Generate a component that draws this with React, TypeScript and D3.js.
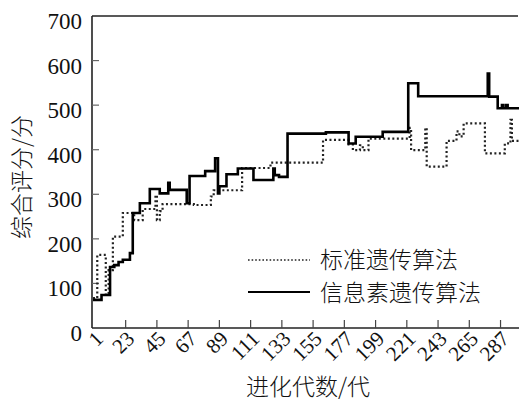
import { useEffect, useRef } from "react";
import * as d3 from "d3";

// 标准遗传算法 (dotted) — generation where the value changes, and the value
const stdGens = [0, 3, 9, 11, 14, 21, 29, 35, 44, 45, 47, 49, 71, 83, 85, 105, 125, 162, 180, 183, 188, 190, 194, 223, 224, 234, 235, 249, 256, 258, 261, 276, 290, 294, 295, 300];
const stdScores = [67, 164, 75, 130, 205, 258, 242, 267, 298, 242, 262, 278, 276, 295, 309, 359, 371, 422, 412, 399, 410, 399, 425, 449, 399, 449, 362, 420, 441, 430, 459, 392, 414, 467, 420, 420];

// 信息素遗传算法 (solid)
const pherGens = [0, 6, 12, 15, 18, 21, 26, 28, 33, 40, 47, 53, 54, 66, 68, 79, 86, 88, 89, 94, 102, 113, 127, 128, 131, 137, 164, 180, 185, 204, 222, 229, 278, 279, 285, 288, 289, 291, 292, 300];
const pherScores = [63, 74, 137, 141, 148, 153, 168, 258, 280, 312, 302, 326, 310, 280, 341, 352, 381, 302, 318, 345, 358, 332, 358, 343, 339, 436, 439, 414, 429, 440, 549, 520, 571, 519, 493, 500, 493, 500, 493, 493];

const xTicks = [1, 23, 45, 67, 89, 111, 133, 155, 177, 199, 221, 243, 265, 287];
const yTicks = [0, 100, 200, 300, 400, 500, 600, 700];

const legendLabels = ["标准遗传算法", "信息素遗传算法"];
const xTitle = "进化代数/代";
const yTitle = "综合评分/分";

const serif = "'Liberation Serif', 'Times New Roman', serif";
const cjk = "'Noto Sans CJK SC', sans-serif";

export default function App() {
  const svgRef = useRef<SVGSVGElement>(null);
  const width = 519;
  const height = 408;

  useEffect(() => {
    if (!svgRef.current) return;
    const svg = d3.select(svgRef.current);
    svg.selectAll("*").remove();

    const left = 92;
    const right = 519;
    const top = 16;
    const bottom = 328;

    const x = d3.scaleLinear().domain([0, 300]).range([93, 519]);
    const y = d3.scaleLinear().domain([0, 700]).range([bottom, top]);

    // frame: top, left, bottom (no right edge)
    const frame = [
      [left, top, 518, top],
      [left, top, left, bottom],
      [left, bottom, right, bottom],
    ];
    svg.selectAll(".frame").data(frame).enter().append("line")
      .attr("x1", (d) => d[0]).attr("y1", (d) => d[1])
      .attr("x2", (d) => d[2]).attr("y2", (d) => d[3])
      .attr("stroke", "#222").attr("stroke-width", 1.6);

    // y ticks (inward)
    const yg = svg.append("g");
    yg.selectAll("line").data(yTicks.slice(1, -1)).enter().append("line")
      .attr("x1", left).attr("x2", left + 7)
      .attr("y1", (d) => y(d)).attr("y2", (d) => y(d))
      .attr("stroke", "#666").attr("stroke-width", 1.2);
    yg.selectAll("text").data(yTicks).enter().append("text")
      .attr("x", 82).attr("y", (d) => y(d) + 13)
      .attr("text-anchor", "end")
      .attr("font-family", serif).attr("font-size", 23).attr("fill", "#111")
      .text((d) => d);

    // x ticks (inward)
    const xg = svg.append("g");
    xg.selectAll("line").data(xTicks.slice(1)).enter().append("line")
      .attr("x1", (d) => x(d)).attr("x2", (d) => x(d))
      .attr("y1", bottom).attr("y2", bottom - 8)
      .attr("stroke", "#444").attr("stroke-width", 1.2);
    xg.selectAll("text").data(xTicks).enter().append("text")
      .attr("transform", (d) => `translate(${x(d) + 10},${bottom + 12}) rotate(-45)`)
      .attr("text-anchor", "end")
      .attr("font-family", serif).attr("font-size", 21).attr("fill", "#111")
      .text((d) => d);

    // axis titles
    svg.append("text")
      .attr("x", 308).attr("y", 395)
      .attr("text-anchor", "middle")
      .attr("font-family", cjk).attr("font-weight", 300).attr("font-size", 23).attr("fill", "#111")
      .text(xTitle);
    svg.append("text")
      .attr("transform", "translate(30,177) rotate(-90)")
      .attr("text-anchor", "middle")
      .attr("font-family", cjk).attr("font-weight", 300).attr("font-size", 23).attr("fill", "#111")
      .text(yTitle);

    const stepLine = d3.line<[number, number]>()
      .x((d) => x(d[0])).y((d) => y(d[1]))
      .curve(d3.curveStepAfter);

    const stdData = stdGens.map((g, i) => [g, stdScores[i]] as [number, number]);
    const pherData = pherGens.map((g, i) => [g, pherScores[i]] as [number, number]);

    svg.append("path").attr("d", stepLine(stdData))
      .attr("fill", "none").attr("stroke", "#222")
      .attr("stroke-width", 2.2).attr("stroke-dasharray", "2 2.5");
    svg.append("path").attr("d", stepLine(pherData))
      .attr("fill", "none").attr("stroke", "#000")
      .attr("stroke-width", 2.6);

    // legend
    const lg = svg.append("g");
    lg.append("line").attr("x1", 248).attr("x2", 310).attr("y1", 260).attr("y2", 260)
      .attr("stroke", "#222").attr("stroke-width", 1.6).attr("stroke-dasharray", "1.6 2");
    lg.append("line").attr("x1", 248).attr("x2", 310).attr("y1", 292).attr("y2", 292)
      .attr("stroke", "#000").attr("stroke-width", 2.2);
    lg.selectAll("text").data(legendLabels).enter().append("text")
      .attr("x", 320).attr("y", (_, i) => 268 + i * 33)
      .attr("font-family", cjk).attr("font-weight", 300).attr("font-size", 23).attr("fill", "#111")
      .text((d) => d);
  }, []);

  return (
    <svg
      ref={svgRef}
      width={width}
      height={height}
      style={{ position: "absolute", left: 0, top: 0, background: "#fff" }}
    />
  );
}
